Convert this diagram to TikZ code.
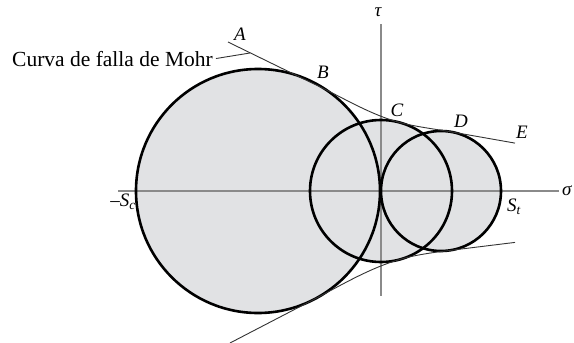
\documentclass[tikz,border=0pt]{standalone}
\usepackage{fontspec}
\setmainfont{Liberation Serif}
\definecolor{fillgray}{HTML}{E1E2E4}
\definecolor{axisgray}{HTML}{8A8A8A}
\definecolor{envgray}{HTML}{333333}
\begin{document}
\begin{tikzpicture}[x=1pt,y=-1pt,
  circ/.style={draw=black,line width=2.6pt},
  axis/.style={draw=axisgray,line width=1.3pt},
  env/.style={draw=envgray,line width=0.9pt},
  lbl/.style={inner sep=0pt,font=\fontsize{19}{19}\selectfont\itshape},
  txt/.style={inner sep=0pt,font=\fontsize{21.5}{21.5}\selectfont}]
\useasboundingbox (0,0) rectangle (574,343);
% circle centres
\coordinate (c1) at (258,191);
\coordinate (c2) at (381,191);
\coordinate (c3) at (441,191);
% fill
\fill[fillgray] (c1) circle[radius=122pt] (c2) circle[radius=71pt] (c3) circle[radius=60pt];
% axes
\coordinate (xl) at (118,191);
\coordinate (xr) at (559,191);
\coordinate (yt) at (381,24);
\coordinate (yb) at (381,296);
\draw[axis] (xl) -- (xr);
\draw[axis] (yt) -- (yb);
% circles
\draw[circ] (c1) circle[radius=122pt];
\draw[circ] (c2) circle[radius=71pt];
\draw[circ] (c3) circle[radius=60pt];
% upper envelope
\coordinate (A) at (228,42);
\coordinate (Tb) at (310.7,82.4);
\coordinate (Tm) at (399.4,122.4);
\coordinate (Tr) at (451.4,131.9);
\coordinate (E) at (515,143.1);
\draw[env] (A) -- (Tb) .. controls (339.5,95.5) and (368.5,114.1) .. (Tm)
  .. controls (415.8,126.8) and (434.7,129.0) .. (Tr) -- (E);
% lower envelope
\coordinate (Al) at (230,343);
\coordinate (Tbl) at (314.3,299.2);
\coordinate (Tml) at (400.6,259.2);
\coordinate (Trl) at (448.3,250.6);
\coordinate (El) at (515,242.4);
\draw[env] (Al) -- (Tbl) .. controls (342.7,284.4) and (369.8,268.0) .. (Tml)
  .. controls (416,254.8) and (432.4,252.6) .. (Trl) -- (El);
% labels
\node[lbl] (lA) at (240,34) {A};
\node[lbl] (lB) at (323,72) {B};
\node[lbl] (lC) at (397,110) {C};
\node[lbl] (lD) at (461,121) {D};
\node[lbl] (lE) at (522,132) {E};
\node[lbl] (tau) at (378,12) {τ};
\node[lbl,anchor=west] (sig) at (562,191) {σ};
\node[lbl] (St) at (514,207) {S\textsubscript{t}};
\node[lbl] (Sc) at (123,202) {\textup{–}S\textsubscript{c}};
% Mohr curve label
\node[txt,anchor=base west] (mohr) at (12,66) {Curva de falla de Mohr};
\coordinate (lead) at (250,53);
\path (mohr.east) ++(3pt,0) coordinate (mohrend);
\draw[env] (mohrend) -- (lead);
\end{tikzpicture}
\end{document}
